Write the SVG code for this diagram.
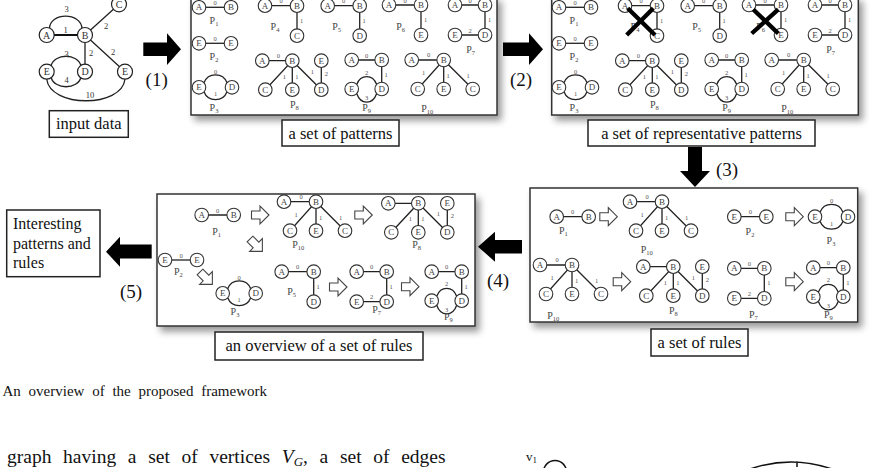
<svg xmlns="http://www.w3.org/2000/svg" width="889" height="468" viewBox="0 0 889 468">
<defs>
<style>
.nc{fill:#fff;stroke:#333;stroke-width:1.1}
.nt{font-family:"Liberation Serif",serif;font-size:9px;fill:#444;text-anchor:middle}
.e{stroke:#222;stroke-width:1.3;fill:none}
.el{font-family:"Liberation Serif",serif;font-size:6.5px;fill:#555;text-anchor:middle}
.pl{font-family:"Liberation Serif",serif;font-size:10px;fill:#444;text-anchor:middle}
.sb{font-size:6.5px}
.box{fill:#fff;stroke:#333;stroke-width:1.5}
.lbox{fill:#fff;stroke:#222;stroke-width:1.5}
.lt{font-family:"Liberation Serif",serif;font-size:16.5px;fill:#111;text-anchor:middle}
.oa{fill:#fff;stroke:#444;stroke-width:1.1}
.ba{fill:#000}
.num{font-family:"Liberation Serif",serif;font-size:19px;fill:#111;text-anchor:middle}
.x{stroke:#000;stroke-width:4.3;stroke-linecap:butt}
.in{fill:#fff;stroke:#222;stroke-width:1.2}
.it{font-family:"Liberation Serif",serif;font-size:10px;fill:#333;text-anchor:middle}
.il{font-family:"Liberation Serif",serif;font-size:8.5px;fill:#333;text-anchor:middle}
</style>
<filter id="sh" x="-5%" y="-5%" width="115%" height="125%"><feDropShadow dx="4" dy="5" stdDeviation="3.5" flood-color="#000" flood-opacity="0.4"/></filter>
<g id="nA"><circle class="nc" r="6.8"/><text class="nt" y="3.1">A</text></g>
<g id="nB"><circle class="nc" r="6.8"/><text class="nt" y="3.1">B</text></g>
<g id="nC"><circle class="nc" r="6.8"/><text class="nt" y="3.1">C</text></g>
<g id="nD"><circle class="nc" r="6.8"/><text class="nt" y="3.1">D</text></g>
<g id="nE"><circle class="nc" r="6.8"/><text class="nt" y="3.1">E</text></g>
<path id="oar" class="oa" d="M-8.5,-4H0V-9L9,0L0,9V4H-8.5Z"/>
<g id="P1g"><path class="e" d="M0,0H32"/><use href="#nA"/><use href="#nB" x="32"/><text class="el" x="16" y="-2.5">0</text></g>
<g id="P2g"><path class="e" d="M0,0H32"/><use href="#nE"/><use href="#nE" x="32"/><text class="el" x="16" y="-2.5">0</text></g>
<g id="P3g"><path class="e" d="M5,-4.5C9,-15 24,-15 28,-4.5M5,4.5C9,15 24,15 28,4.5"/><use href="#nE"/><use href="#nD" x="33"/><text class="el" x="16.5" y="-13.5">0</text><text class="el" x="16.5" y="9">1</text></g>
<g id="P4g"><path class="e" d="M0,0H32V30"/><use href="#nA"/><use href="#nB" x="32"/><use href="#nC" x="32" y="30"/><text class="el" x="16" y="-2.5">0</text><text class="el" x="36.5" y="17">1</text></g>
<g id="P5g"><path class="e" d="M0,0H32V30"/><use href="#nA"/><use href="#nB" x="32"/><use href="#nD" x="32" y="30"/><text class="el" x="16" y="-2.5">0</text><text class="el" x="36.5" y="17">1</text></g>
<g id="P6g"><path class="e" d="M0,0H32V30"/><use href="#nA"/><use href="#nB" x="32"/><use href="#nE" x="32" y="30"/><text class="el" x="16" y="-2.5">0</text><text class="el" x="36.5" y="17">1</text></g>
<g id="P7g"><path class="e" d="M0,0H30V30H0"/><use href="#nA"/><use href="#nB" x="30"/><use href="#nD" x="30" y="30"/><use href="#nE" y="30"/><text class="el" x="15" y="-2.5">0</text><text class="el" x="34.5" y="17">1</text><text class="el" x="15" y="27.5">2</text></g>
<g id="P8g"><path class="e" d="M0,0H30L3,29M30,0V29M30,0L59,29M59,0V29"/><use href="#nA"/><use href="#nB" x="30"/><use href="#nC" x="3" y="29"/><use href="#nE" x="30" y="29"/><use href="#nD" x="59" y="29"/><use href="#nE" x="59"/><text class="el" x="22" y="18">1</text><text class="el" x="34.5" y="18">1</text><text class="el" x="50" y="13">1</text><text class="el" x="64" y="15">2</text></g>
<g id="P9g"><path class="e" d="M0,0H30V29M5,24.5C9,14 21,14 25,24.5M5,33.5C9,45 21,45 25,33.5"/><use href="#nA"/><use href="#nB" x="30"/><use href="#nD" x="30" y="29"/><use href="#nE" y="29"/><text class="el" x="15" y="-2.5">0</text><text class="el" x="34.5" y="17">1</text><text class="el" x="15" y="14.5">2</text><text class="el" x="15" y="40">3</text></g>
<g id="P10g"><path class="e" d="M0,0H32L6,29M32,0V29M32,0L61,29"/><use href="#nA"/><use href="#nB" x="32"/><use href="#nC" x="6" y="29"/><use href="#nE" x="32" y="29"/><use href="#nC" x="61" y="29"/><text class="el" x="17" y="-3">0</text><text class="el" x="12" y="15">1</text><text class="el" x="36.5" y="18">1</text><text class="el" x="56.5" y="18">1</text></g>
</defs>
<rect width="889" height="468" fill="#fff"/>

<g id="input">
<path class="e" d="M49.5,28.5C50,12 81,12 82,28.5M85,35L119,4.3M85,35V71.7M85,35L125,71.7M51,66C54,53 78,53 81,66M51,77C54,90 78,90 81,77M46.7,79C50,108 122,108 125,79"/>
<path d="M46.7,35H85" stroke="#111" stroke-width="2.2"/>
<circle class="in" cx="46.7" cy="35" r="7.5"/><text class="it" x="46.7" y="38.5">A</text>
<circle class="in" cx="85" cy="35" r="7.5"/><text class="it" x="85" y="38.5">B</text>
<circle class="in" cx="119" cy="4.3" r="7.5"/><text class="it" x="119" y="7.8">C</text>
<circle class="in" cx="46.7" cy="71.7" r="7.5"/><text class="it" x="46.7" y="75.2">E</text>
<circle class="in" cx="85" cy="71.7" r="7.5"/><text class="it" x="85" y="75.2">D</text>
<circle class="in" cx="125" cy="71.7" r="7.5"/><text class="it" x="125" y="75.2">E</text>
<text class="il" x="66.7" y="12">3</text>
<text class="il" x="65.7" y="33">1</text>
<text class="il" x="106" y="29">2</text>
<text class="il" x="91" y="56">2</text>
<text class="il" x="113" y="55">2</text>
<text class="il" x="66.7" y="57">3</text>
<text class="il" x="66.7" y="83">4</text>
<text class="il" x="90" y="98">10</text>
<rect class="lbox" x="49.3" y="110.7" width="79" height="26.6"/>
<text class="lt" x="88.8" y="128.8">input data</text>
</g>

<g id="patterns">
<rect class="box" x="191" y="-3" width="306" height="118" filter="url(#sh)"/>
<use href="#P1g" x="199" y="7.3"/><text class="pl" x="214" y="23.5">P<tspan class="sb" dy="2">1</tspan></text>
<use href="#P2g" x="199" y="43.3"/><text class="pl" x="214" y="60">P<tspan class="sb" dy="2">2</tspan></text>
<use href="#P3g" x="199" y="87.3"/><text class="pl" x="214" y="110.5">P<tspan class="sb" dy="2">3</tspan></text>
<use href="#P4g" x="265" y="5.7"/><text class="pl" x="275" y="30">P<tspan class="sb" dy="2">4</tspan></text>
<use href="#P5g" x="327.7" y="5.7"/><text class="pl" x="336.7" y="29.5">P<tspan class="sb" dy="2">5</tspan></text>
<use href="#P6g" x="389" y="5"/><text class="pl" x="400.7" y="29.5">P<tspan class="sb" dy="2">6</tspan></text>
<use href="#P7g" x="455" y="5"/><text class="pl" x="470.7" y="53">P<tspan class="sb" dy="2">7</tspan></text>
<use href="#P8g" x="262.3" y="60.7"/><text class="el" x="278.3" y="58.2">0</text><text class="pl" x="294.3" y="108">P<tspan class="sb" dy="2">8</tspan></text>
<use href="#P9g" x="351.7" y="60"/><text class="pl" x="366.7" y="110.5">P<tspan class="sb" dy="2">9</tspan></text>
<use href="#P10g" x="411.7" y="60"/><text class="pl" x="427.3" y="111.5">P<tspan class="sb" dy="2">10</tspan></text>
<rect class="lbox" x="282" y="120" width="117" height="26"/>
<text class="lt" x="340.5" y="138.5">a set of patterns</text>
</g>

<g id="representative">
<rect class="box" x="551.7" y="-3" width="306.6" height="118" filter="url(#sh)"/>
<use href="#P1g" x="559" y="7.3"/><text class="pl" x="574" y="23.5">P<tspan class="sb" dy="2">1</tspan></text>
<use href="#P2g" x="559" y="43.3"/><text class="pl" x="574" y="60">P<tspan class="sb" dy="2">2</tspan></text>
<use href="#P3g" x="559" y="87.3"/><text class="pl" x="574" y="110.5">P<tspan class="sb" dy="2">3</tspan></text>
<use href="#P4g" x="625" y="5.7"/><text class="pl" x="635" y="30">P<tspan class="sb" dy="2">4</tspan></text>
<use href="#P5g" x="687.7" y="5.7"/><text class="pl" x="696.7" y="29.5">P<tspan class="sb" dy="2">5</tspan></text>
<use href="#P6g" x="749" y="5"/><text class="pl" x="760.7" y="29.5">P<tspan class="sb" dy="2">6</tspan></text>
<use href="#P7g" x="815" y="5"/><text class="pl" x="830.7" y="53">P<tspan class="sb" dy="2">7</tspan></text>
<use href="#P8g" x="622.3" y="60.7"/><text class="el" x="638.3" y="58.2">0</text><text class="pl" x="654.3" y="108">P<tspan class="sb" dy="2">8</tspan></text>
<use href="#P9g" x="711.7" y="60"/><text class="pl" x="726.7" y="110.5">P<tspan class="sb" dy="2">9</tspan></text>
<use href="#P10g" x="771.7" y="60"/><text class="pl" x="787.3" y="111.5">P<tspan class="sb" dy="2">10</tspan></text>
<path class="x" d="M627.7,8.3L655,35M653.3,8.3L626.7,35M753.3,9.5L778.3,33.5M778.3,9.3L751.7,33.5"/>
<rect class="lbox" x="588" y="120" width="227" height="26"/>
<text class="lt" x="701.5" y="138.5">a set of representative patterns</text>
</g>

<g id="rules">
<rect class="box" x="530" y="188" width="327.7" height="134" filter="url(#sh)"/>
<use href="#P1g" x="556.7" y="216.7"/><text class="pl" x="563.3" y="233.5">P<tspan class="sb" dy="2">1</tspan></text>
<use href="#oar" x="608.3" y="216.7"/>
<use href="#P10g" x="630" y="201.7"/><text class="pl" x="646.7" y="253">P<tspan class="sb" dy="2">10</tspan></text>
<use href="#P2g" x="734.3" y="216.7"/><text class="pl" x="750" y="234.5">P<tspan class="sb" dy="2">2</tspan></text>
<use href="#oar" x="794.3" y="216.7"/>
<use href="#P3g" x="815" y="216.7"/><text class="pl" x="831" y="243.5">P<tspan class="sb" dy="2">3</tspan></text>
<use href="#P10g" x="540" y="265"/><text class="pl" x="553.3" y="318.5">P<tspan class="sb" dy="2">10</tspan></text>
<use href="#oar" x="621.7" y="281.7"/>
<use href="#P8g" x="643.3" y="266.7"/><text class="pl" x="673.3" y="314">P<tspan class="sb" dy="2">8</tspan></text>
<use href="#P7g" x="734.3" y="268.3"/><text class="pl" x="753.3" y="318">P<tspan class="sb" dy="2">7</tspan></text>
<use href="#oar" x="794.3" y="281.7"/>
<use href="#P9g" x="813.3" y="267.7"/><text class="pl" x="828.3" y="318">P<tspan class="sb" dy="2">9</tspan></text>
<rect class="lbox" x="651" y="329" width="97" height="27"/>
<text class="lt" x="699.5" y="347.5">a set of rules</text>
</g>

<g id="overview">
<rect class="box" x="157" y="194" width="318" height="132" filter="url(#sh)"/>
<use href="#P1g" x="201.7" y="215"/><text class="pl" x="216.7" y="235">P<tspan class="sb" dy="2">1</tspan></text>
<use href="#oar" x="260" y="215"/>
<use href="#P10g" x="284" y="201.7"/><text class="pl" x="298.3" y="248">P<tspan class="sb" dy="2">10</tspan></text>
<use href="#oar" transform="translate(256,245) rotate(45)"/>
<use href="#oar" x="363.3" y="215"/>
<use href="#P8g" x="388.3" y="203.3"/><text class="pl" x="416.7" y="248">P<tspan class="sb" dy="2">8</tspan></text>
<use href="#P2g" x="165" y="260"/><text class="pl" x="178.3" y="275">P<tspan class="sb" dy="2">2</tspan></text>
<use href="#oar" transform="translate(206,278) rotate(45)"/>
<use href="#P3g" x="222.7" y="293.3"/><text class="pl" x="235" y="315">P<tspan class="sb" dy="2">3</tspan></text>
<use href="#P5g" x="281.7" y="271.7"/><text class="pl" x="291.7" y="295">P<tspan class="sb" dy="2">5</tspan></text>
<use href="#oar" x="338" y="287"/>
<use href="#P7g" x="356.7" y="271.7"/><text class="pl" x="376.7" y="312.5">P<tspan class="sb" dy="2">7</tspan></text>
<use href="#oar" x="410" y="286.7"/>
<use href="#P9g" x="431.7" y="271.7"/><text class="pl" x="448.3" y="320">P<tspan class="sb" dy="2">9</tspan></text>
<rect class="lbox" x="215" y="332" width="208" height="28"/>
<text class="lt" x="319" y="351">an overview of a set of rules</text>
</g>

<g id="interesting">
<rect class="lbox" x="6.7" y="210" width="93.3" height="66.7"/>
<text font-family="Liberation Serif, serif" font-size="16" fill="#111"><tspan x="13" y="228.5">Interesting</tspan><tspan x="13" y="248.5">patterns and</tspan><tspan x="13" y="268">rules</tspan></text>
</g>

<g id="connectors">
<polygon class="ba" points="143.3,42.5 167,42.5 167,33.3 181,49.2 167,65 167,56 143.3,56"/>
<polygon class="ba" points="503,42.5 529,42.5 529,33.3 543,49.2 529,65 529,56 503,56"/>
<polygon class="ba" points="688,147 702,147 702,171 710,171 695,187 680,171 688,171"/>
<polygon class="ba" points="522,240 495,240 495,231.7 478,246.7 495,261.7 495,253.4 522,253.4"/>
<polygon class="ba" points="151.7,244.5 120,244.5 120,236.7 106,251.7 120,266.7 120,258.5 151.7,258.5"/>
<text class="num" x="156.7" y="86">(1)</text>
<text class="num" x="521" y="86">(2)</text>
<text class="num" x="727" y="176">(3)</text>
<text class="num" x="498" y="287">(4)</text>
<text class="num" x="131" y="298">(5)</text>
</g>

<g id="caption" font-family="Liberation Serif, serif" fill="#111">
<text x="2.5" y="396" font-size="15" word-spacing="4">An overview of the proposed framework</text>
<text x="7" y="462.5" font-size="19.5" word-spacing="6.8">graph having a set of vertices <tspan font-style="italic">V</tspan><tspan font-style="italic" font-size="13" dy="3">G</tspan><tspan dy="-3">, a set of edges</tspan></text>
<text x="526" y="461" font-size="13">v<tspan font-size="9" dy="2">1</tspan></text>
<circle cx="555" cy="472" r="11.5" fill="none" stroke="#111" stroke-width="1.5"/>
<path d="M750,469Q791,455 832,469M797,461.5V467" fill="none" stroke="#111" stroke-width="1.5"/>
</g>
</svg>
